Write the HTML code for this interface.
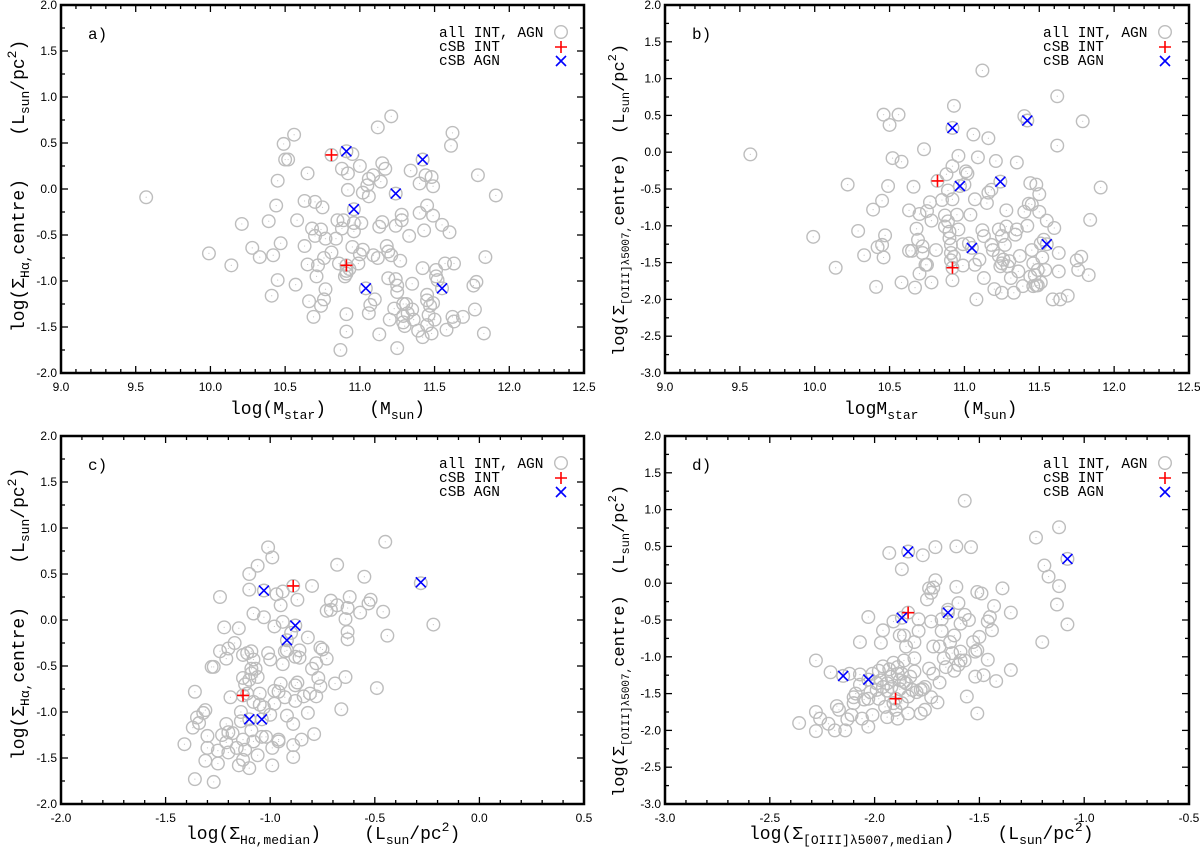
<!DOCTYPE html>
<html><head><meta charset="utf-8"><style>
html,body{margin:0;padding:0;background:#fff;}
svg{display:block;}
.tl{font-family:"Liberation Sans",sans-serif;font-size:12px;fill:#000;}
.mono{font-family:"Liberation Mono",monospace;fill:#000;}
.pre text{white-space:pre;}
</style></head><body>
<svg id="fig" width="1200" height="850" viewBox="0 0 1200 850" xmlns="http://www.w3.org/2000/svg"></svg>
<script>
const aAll = [[9.57,-0.09],[9.99,-0.70],[10.14,-0.83],[10.21,-0.38],[10.28,-0.64],[10.33,-0.74],[10.39,-0.35],[10.41,-1.16],[10.42,-0.72],[10.44,-0.18],[10.45,0.09],[10.45,-0.99],[10.47,-0.59],[10.49,0.49],[10.50,0.32],[10.52,0.32],[10.56,0.59],[10.57,-1.04],[10.58,-0.34],[10.63,-0.13],[10.63,-0.62],[10.65,0.17],[10.65,-0.82],[10.66,-1.22],[10.68,-0.43],[10.69,-1.39],[10.70,-0.51],[10.70,-0.14],[10.71,-0.95],[10.72,-0.83],[10.74,-0.44],[10.74,-1.27],[10.75,-0.20],[10.76,-1.20],[10.76,-0.75],[10.77,-0.54],[10.77,-1.09],[10.81,-0.69],[10.84,-0.54],[10.85,-0.34],[10.86,-0.81],[10.87,-1.75],[10.88,0.22],[10.88,-0.43],[10.89,-0.34],[10.90,-0.95],[10.91,-0.89],[10.91,-1.36],[10.91,-1.55],[10.91,-0.92],[10.92,-0.01],[10.92,0.17],[10.93,-0.87],[10.95,0.38],[10.95,-0.63],[10.96,-0.46],[10.96,-0.37],[10.99,-0.81],[11.00,-0.71],[11.00,0.25],[11.01,-0.37],[11.02,-0.04],[11.02,-0.66],[11.05,0.04],[11.06,0.11],[11.06,-0.08],[11.06,-1.35],[11.07,-1.26],[11.09,0.15],[11.09,-0.72],[11.10,-1.20],[11.12,-0.75],[11.12,0.67],[11.13,-1.58],[11.13,-0.41],[11.14,0.08],[11.15,-0.36],[11.15,0.28],[11.17,0.22],[11.18,-0.62],[11.19,-0.68],[11.19,-0.97],[11.20,-1.42],[11.21,0.79],[11.21,-0.72],[11.23,-1.30],[11.24,-0.40],[11.24,-0.98],[11.25,-1.73],[11.25,-1.12],[11.25,-1.05],[11.27,-0.78],[11.28,-0.28],[11.28,-0.34],[11.29,-1.45],[11.29,-1.25],[11.29,-1.38],[11.30,-1.49],[11.31,-1.25],[11.32,-1.35],[11.33,-0.51],[11.34,0.20],[11.35,-1.03],[11.35,-1.31],[11.36,-1.42],[11.39,-1.54],[11.40,0.06],[11.40,-0.26],[11.42,-0.86],[11.42,-1.61],[11.43,-0.45],[11.44,0.15],[11.45,-1.48],[11.45,-1.15],[11.45,-0.18],[11.45,-1.21],[11.46,-1.37],[11.47,-1.27],[11.48,-1.57],[11.48,0.13],[11.49,0.03],[11.49,-0.29],[11.49,-1.24],[11.50,-1.42],[11.51,-0.88],[11.51,-0.95],[11.52,-0.99],[11.55,-0.39],[11.57,-0.81],[11.58,-1.53],[11.60,-0.47],[11.61,0.47],[11.62,0.61],[11.63,-0.81],[11.63,-1.44],[11.62,-1.39],[11.69,-1.39],[11.76,-1.05],[11.77,-1.31],[11.78,-1.01],[11.79,0.15],[11.83,-1.57],[11.84,-0.74],[11.91,-0.07],[10.81,0.37],[10.91,-0.83],[10.91,0.41],[11.42,0.32],[11.24,-0.05],[10.96,-0.22],[11.04,-1.08],[11.55,-1.08]];
const aInt = [[10.81,0.37],[10.91,-0.83]];
const aAgn = [[10.91,0.41],[11.42,0.32],[11.24,-0.05],[10.96,-0.22],[11.04,-1.08],[11.55,-1.08]];

const bAll = [[9.57,-0.03],[9.99,-1.15],[10.14,-1.57],[10.22,-0.44],[10.29,-1.07],[10.33,-1.40],[10.39,-0.78],[10.41,-1.83],[10.42,-1.29],[10.45,-0.66],[10.45,-1.26],[10.46,0.51],[10.46,-1.43],[10.47,-1.13],[10.49,-0.46],[10.50,0.37],[10.52,-0.08],[10.56,0.51],[10.58,-0.13],[10.58,-1.77],[10.63,-0.79],[10.63,-1.34],[10.65,-1.34],[10.66,-0.47],[10.67,-1.84],[10.68,-1.04],[10.69,-1.19],[10.70,-1.65],[10.70,-0.84],[10.72,-1.37],[10.72,-1.28],[10.73,0.04],[10.74,-1.53],[10.75,-0.80],[10.75,-1.53],[10.77,-0.68],[10.78,-0.93],[10.78,-1.77],[10.81,-1.33],[10.85,-0.65],[10.87,-0.86],[10.87,-1.01],[10.88,-0.30],[10.89,-0.94],[10.89,-0.52],[10.90,-1.17],[10.90,-1.08],[10.91,-1.26],[10.91,-1.47],[10.91,-1.37],[10.92,-0.64],[10.92,-1.74],[10.92,-0.19],[10.93,-1.42],[10.93,0.63],[10.95,-0.85],[10.96,-0.05],[10.96,-1.05],[10.99,-1.25],[10.99,-1.54],[11.00,-0.44],[11.01,-0.26],[11.02,-0.29],[11.03,-1.24],[11.04,-0.85],[11.06,0.24],[11.07,-0.64],[11.07,-1.53],[11.08,-2.00],[11.09,-0.07],[11.10,-1.46],[11.12,-1.06],[11.12,1.11],[11.13,-1.71],[11.13,-1.14],[11.15,-0.69],[11.16,0.19],[11.16,-0.55],[11.18,-0.51],[11.18,-1.26],[11.19,-1.33],[11.20,-1.86],[11.21,-0.12],[11.23,-1.05],[11.23,-1.41],[11.24,-1.55],[11.25,-1.14],[11.25,-1.91],[11.25,-1.51],[11.26,-1.46],[11.27,-1.26],[11.28,-0.79],[11.28,-1.01],[11.29,-1.55],[11.30,-1.48],[11.31,-1.71],[11.33,-1.91],[11.34,-1.12],[11.35,-0.14],[11.35,-1.05],[11.36,-1.62],[11.37,-1.41],[11.39,-1.82],[11.40,0.49],[11.40,-0.81],[11.42,-1.00],[11.43,-0.70],[11.44,-0.42],[11.44,-1.69],[11.45,-0.71],[11.45,-1.33],[11.46,-1.82],[11.46,-1.51],[11.47,-1.67],[11.48,-1.81],[11.48,-0.44],[11.49,-1.60],[11.49,-1.81],[11.50,-0.57],[11.50,-0.81],[11.51,-1.77],[11.51,-1.24],[11.52,-1.43],[11.53,-1.19],[11.54,-1.60],[11.55,-0.93],[11.59,-2.00],[11.60,-1.03],[11.62,0.76],[11.62,0.09],[11.63,-1.37],[11.63,-1.62],[11.64,-2.00],[11.69,-1.95],[11.75,-1.47],[11.76,-1.60],[11.78,-1.42],[11.79,0.42],[11.83,-1.67],[11.84,-0.92],[11.91,-0.48],[10.82,-0.39],[10.92,-1.57],[10.92,0.33],[11.42,0.43],[10.97,-0.46],[11.24,-0.40],[11.05,-1.30],[11.55,-1.25]];
const bInt = [[10.82,-0.39],[10.92,-1.57]];
const bAgn = [[10.92,0.33],[11.42,0.43],[10.97,-0.46],[11.24,-0.40],[11.05,-1.30],[11.55,-1.25]];

const cAll = [[-1.41,-1.35],[-1.36,-1.73],[-1.36,-0.78],[-1.37,-1.17],[-1.35,-1.06],[-1.34,-1.12],[-1.31,-0.98],[-1.32,-1.01],[-1.31,-1.53],[-1.30,-1.39],[-1.30,-1.26],[-1.28,-0.51],[-1.27,-0.51],[-1.27,-1.76],[-1.25,-1.42],[-1.25,-1.56],[-1.24,0.25],[-1.24,-0.34],[-1.23,-1.25],[-1.22,-0.08],[-1.21,-1.33],[-1.21,-0.42],[-1.21,-1.13],[-1.20,-0.31],[-1.20,-1.44],[-1.20,-1.22],[-1.19,-0.84],[-1.18,-1.23],[-1.17,-0.25],[-1.16,-1.39],[-1.15,-1.58],[-1.15,-0.09],[-1.14,-1.00],[-1.14,-1.10],[-1.13,-1.30],[-1.13,-0.38],[-1.13,-0.63],[-1.13,-1.52],[-1.12,-0.70],[-1.12,-1.41],[-1.11,-0.36],[-1.11,-0.80],[-1.10,0.33],[-1.10,-0.65],[-1.10,0.50],[-1.10,-1.61],[-1.09,-0.34],[-1.09,-1.20],[-1.09,-0.58],[-1.09,-0.53],[-1.08,0.07],[-1.08,-0.43],[-1.08,-0.89],[-1.08,-1.32],[-1.07,-0.53],[-1.06,-0.62],[-1.06,0.59],[-1.06,-1.47],[-1.05,-0.92],[-1.05,-0.80],[-1.04,-1.27],[-1.03,0.03],[-1.03,-0.95],[-1.02,-1.27],[-1.01,0.79],[-1.01,-0.36],[-1.00,-0.43],[-1.00,-1.03],[-0.99,-1.39],[-0.99,-1.58],[-0.99,0.68],[-0.98,-0.77],[-0.98,-0.07],[-0.98,-0.91],[-0.97,0.28],[-0.96,-1.30],[-0.96,-0.78],[-0.96,-1.32],[-0.95,-0.69],[-0.95,0.16],[-0.94,0.31],[-0.94,-0.48],[-0.94,-0.02],[-0.93,-0.34],[-0.93,-0.84],[-0.92,-1.04],[-0.92,-0.33],[-0.90,-0.14],[-0.89,-1.13],[-0.89,-1.36],[-0.89,-1.49],[-0.88,-0.88],[-0.88,-0.71],[-0.88,-0.40],[-0.87,-0.68],[-0.87,0.22],[-0.86,-0.41],[-0.86,-0.33],[-0.85,-1.30],[-0.84,-0.83],[-0.82,-1.01],[-0.82,-0.19],[-0.81,-0.80],[-0.80,0.37],[-0.80,-0.53],[-0.79,-1.24],[-0.78,-0.47],[-0.78,-0.83],[-0.77,-0.63],[-0.76,-0.30],[-0.76,-0.72],[-0.75,-0.32],[-0.73,-0.42],[-0.73,0.10],[-0.71,0.21],[-0.71,0.11],[-0.69,-0.69],[-0.68,0.16],[-0.68,0.60],[-0.66,-0.97],[-0.64,-0.62],[-0.64,0.01],[-0.63,0.13],[-0.63,-0.13],[-0.63,-0.21],[-0.62,0.25],[-0.57,0.08],[-0.55,0.47],[-0.53,0.18],[-0.52,0.22],[-0.49,-0.74],[-0.46,0.09],[-0.45,0.85],[-0.44,-0.17],[-0.22,-0.05],[-0.28,0.40],[-0.89,0.37],[-1.13,-0.82],[-1.03,0.32],[-0.88,-0.06],[-0.92,-0.22],[-1.10,-1.08],[-1.04,-1.08]];
const cInt = [[-0.89,0.37],[-1.13,-0.82]];
const cAgn = [[-1.03,0.32],[-0.88,-0.06],[-0.92,-0.22],[-1.10,-1.08],[-1.04,-1.08],[-0.28,0.41]];

const dAll = [[-2.36,-1.90],[-2.28,-1.05],[-2.28,-1.75],[-2.28,-2.01],[-2.26,-1.84],[-2.22,-1.91],[-2.21,-1.21],[-2.19,-2.00],[-2.18,-1.67],[-2.17,-1.72],[-2.14,-2.00],[-2.13,-1.85],[-2.12,-1.23],[-2.11,-1.79],[-2.10,-1.55],[-2.10,-1.63],[-2.09,-1.50],[-2.07,-1.38],[-2.07,-0.80],[-2.07,-1.24],[-2.06,-1.84],[-2.05,-1.58],[-2.03,-1.57],[-2.03,-0.46],[-2.03,-1.95],[-2.02,-1.48],[-2.01,-1.23],[-2.01,-1.79],[-1.99,-1.36],[-1.99,-1.45],[-1.98,-1.19],[-1.98,-1.57],[-1.97,-1.32],[-1.97,-0.81],[-1.96,-1.13],[-1.96,-0.64],[-1.96,-1.41],[-1.95,-1.68],[-1.94,-1.36],[-1.94,-1.82],[-1.94,-1.46],[-1.93,-1.17],[-1.93,0.41],[-1.92,-1.41],[-1.92,-1.27],[-1.91,-0.52],[-1.91,-1.63],[-1.91,-1.08],[-1.90,-1.72],[-1.89,-1.23],[-1.89,-1.14],[-1.89,-1.84],[-1.88,-1.44],[-1.88,-1.32],[-1.88,-0.71],[-1.87,0.19],[-1.87,-1.63],[-1.87,-1.23],[-1.86,-1.05],[-1.86,-0.71],[-1.86,-1.34],[-1.85,-0.86],[-1.85,-1.36],[-1.84,-1.54],[-1.84,-1.77],[-1.84,0.43],[-1.83,-1.27],[-1.82,-1.45],[-1.81,-1.02],[-1.81,-0.80],[-1.81,-1.20],[-1.80,-1.48],[-1.79,-0.65],[-1.79,-0.49],[-1.78,-1.77],[-1.78,-1.45],[-1.77,-1.44],[-1.77,0.38],[-1.76,-1.72],[-1.76,-1.41],[-1.75,-0.22],[-1.74,-0.07],[-1.74,-1.16],[-1.73,-0.52],[-1.73,-0.13],[-1.73,-1.55],[-1.72,-0.06],[-1.72,-0.86],[-1.72,-1.23],[-1.71,0.04],[-1.71,0.49],[-1.70,-1.62],[-1.69,-1.35],[-1.69,-0.86],[-1.68,-0.49],[-1.68,-0.65],[-1.67,-1.02],[-1.66,-1.14],[-1.65,-0.36],[-1.64,-0.80],[-1.63,-0.95],[-1.62,-1.19],[-1.62,-0.71],[-1.61,0.50],[-1.61,-0.05],[-1.60,-1.11],[-1.60,-0.27],[-1.59,-0.55],[-1.59,-1.05],[-1.59,-0.93],[-1.57,-0.43],[-1.57,-1.05],[-1.57,1.12],[-1.56,-1.54],[-1.55,-0.50],[-1.54,0.49],[-1.53,-0.80],[-1.52,-1.27],[-1.52,-0.93],[-1.51,-0.12],[-1.51,-1.77],[-1.51,-0.91],[-1.50,-0.73],[-1.49,-0.14],[-1.48,-1.25],[-1.46,-1.04],[-1.46,-0.52],[-1.45,-0.46],[-1.44,-0.64],[-1.43,-0.31],[-1.42,-1.33],[-1.39,-0.07],[-1.35,-0.40],[-1.35,-1.18],[-1.23,0.62],[-1.20,-0.80],[-1.19,0.24],[-1.17,0.09],[-1.13,-0.29],[-1.12,-0.04],[-1.12,0.76],[-1.08,-0.56],[-1.08,0.33],[-1.84,-0.40],[-1.90,-1.57],[-1.87,-0.47],[-1.65,-0.40],[-2.15,-1.26],[-2.03,-1.31]];
const dInt = [[-1.84,-0.40],[-1.90,-1.57]];
const dAgn = [[-1.84,0.43],[-1.08,0.33],[-1.87,-0.47],[-1.65,-0.40],[-2.15,-1.26],[-2.03,-1.31]];

const aXTicks = ["9.0","9.5","10.0","10.5","11.0","11.5","12.0","12.5"];
const aYTicks = ["-2.0","-1.5","-1.0","-0.5","0.0","0.5","1.0","1.5","2.0"];
const bYTicks = ["-3.0","-2.5","-2.0","-1.5","-1.0","-0.5","0.0","0.5","1.0","1.5","2.0"];
const cXTicks = ["-2.0","-1.5","-1.0","-0.5","0.0","0.5"];
const dXTicks = ["-3.0","-2.5","-2.0","-1.5","-1.0","-0.5"];

const NS = "http://www.w3.org/2000/svg";
const svg = document.getElementById('fig');
function mk(tag, attrs, parent) {
  const e = document.createElementNS(NS, tag);
  for (const k in attrs) e.setAttribute(k, attrs[k]);
  (parent || svg).appendChild(e);
  return e;
}

function drawPanel(p) {
  const g = mk('g', {});
  
  
  const xs = v => p.L + (v - p.x0) / (p.x1 - p.x0) * (p.R - p.L);
  const ys = v => p.B - (v - p.y0) / (p.y1 - p.y0) * (p.B - p.T);
  const tg = mk('g', {stroke: '#000', 'stroke-width': 1.3}, g);
  
  
  const nxm = Math.round((p.x1 - p.x0) / 0.1);
  for (let i = 0; i <= nxm; i++) {
    const v = p.x0 + i * 0.1, X = xs(v), len = (i % 5 === 0) ? 7 : 4;
    mk('line', {x1: X, y1: p.B, x2: X, y2: p.B - len}, tg);
    mk('line', {x1: X, y1: p.T, x2: X, y2: p.T + len}, tg);
  }
  const nym = Math.round((p.y1 - p.y0) / 0.25);
  for (let i = 0; i <= nym; i++) {
    const v = p.y0 + i * 0.25, Y = ys(v), len = (i % 2 === 0) ? 7 : 4;
    mk('line', {x1: p.L, y1: Y, x2: p.L + len, y2: Y}, tg);
    mk('line', {x1: p.R, y1: Y, x2: p.R - len, y2: Y}, tg);
  }
  const fr = mk('rect', {x: p.L, y: p.T, width: p.R - p.L, height: p.B - p.T, fill: 'none', stroke: '#000', 'stroke-width': 2.5}, g);
  
  
  p.xt.forEach(t => {
    const e = mk('text', {x: xs(parseFloat(t)), y: p.B + 18, 'text-anchor': 'middle', class: 'tl'}, g);
    e.textContent = t;
    
    
  });
  p.yt.forEach(t => {
    const e = mk('text', {x: p.L - 4, y: ys(parseFloat(t)) + 4, 'text-anchor': 'end', class: 'tl'}, g);
    e.textContent = t;
    
    
  });
  const pg = mk('g', {}, g);
  
  
  p.all.forEach(d => {
    const c = mk('circle', {cx: xs(d[0]), cy: ys(d[1]), r: 6.3, fill: 'none', stroke: '#bdbdbd', 'stroke-width': 1.4}, pg);
    
    
    mk('circle', {cx: xs(d[0]), cy: ys(d[1]), r: 0.6, fill: '#c8c8c8'}, pg);
  });
  const ig = mk('g', {stroke: '#ff0000', 'stroke-width': 1.6}, g);
  
  
  p.int.forEach(d => {
    const X = xs(d[0]), Y = ys(d[1]);
    const l = mk('path', {d: `M${X-6},${Y}H${X+6}M${X},${Y-6}V${Y+6}`}, ig);
    
    
  });
  const ag = mk('g', {stroke: '#0000ff', 'stroke-width': 1.6}, g);
  
  
  p.agn.forEach(d => {
    const X = xs(d[0]), Y = ys(d[1]);
    const l = mk('path', {d: `M${X-5},${Y-5}L${X+5},${Y+5}M${X-5},${Y+5}L${X+5},${Y-5}`}, ag);
    
    
  });
  const pl = mk('text', {x: p.L + 27, y: p.T + 34, class: 'mono', 'font-size': 16}, g);
  pl.textContent = p.id + ')';
  
  
  const lg = mk('g', {}, g);
  
  
  const names = ['all INT, AGN', 'cSB INT', 'cSB AGN'];
  names.forEach((n, i) => {
    const y = p.T + 28 + i * 14;
    const t = mk('text', {x: p.L + 378, y: y + 4, class: 'mono', 'font-size': 14.5}, lg);
    t.textContent = n;
    
    
    const sx = p.L + 500;
    if (i === 0) mk('circle', {cx: sx, cy: y - 1, r: 6.3, fill: 'none', stroke: '#bdbdbd', 'stroke-width': 1.4}, lg);
    if (i === 1) mk('path', {d: `M${sx-6},${y}H${sx+6}M${sx},${y-6}V${y+6}`, stroke: '#f00', 'stroke-width': 1.6}, lg);
    if (i === 2) mk('path', {d: `M${sx-5},${y-5}L${sx+5},${y+5}M${sx-5},${y+5}L${sx+5},${y-5}`, stroke: '#00f', 'stroke-width': 1.6}, lg);
  });
}

drawPanel({id:'a', L:61, R:584, T:5, B:373, x0:9, x1:12.5, y0:-2, y1:2, xt:aXTicks, yt:aYTicks, all:aAll, int:aInt, agn:aAgn});
drawPanel({id:'b', L:665, R:1189, T:5, B:373, x0:9, x1:12.5, y0:-3, y1:2, xt:aXTicks, yt:bYTicks, all:bAll, int:bInt, agn:bAgn});
drawPanel({id:'c', L:61, R:584, T:436, B:804, x0:-2, x1:0.5, y0:-2, y1:2, xt:cXTicks, yt:aYTicks, all:cAll, int:cInt, agn:cAgn});
drawPanel({id:'d', L:665, R:1189, T:436, B:804, x0:-3, x1:-0.5, y0:-3, y1:2, xt:dXTicks, yt:bYTicks, all:dAll, int:dInt, agn:dAgn});
</script>
<svg class="pre" style="position:absolute;left:0;top:0" width="1200" height="850">
<g class="mono" font-family="Liberation Mono, monospace" font-size="18">
<text x="230" y="414">log(M<tspan font-size="13" dy="5">star</tspan><tspan dy="-5">)    (M</tspan><tspan font-size="13" dy="5">sun</tspan><tspan dy="-5">)</tspan></text>
<text x="844" y="414">logM<tspan font-size="13" dy="5">star</tspan><tspan dy="-5">    (M</tspan><tspan font-size="13" dy="5">sun</tspan><tspan dy="-5">)</tspan></text>
<text x="186" y="839">log(Σ<tspan font-size="13" dy="5">Hα,median</tspan><tspan dy="-5">)    (L</tspan><tspan font-size="13" dy="5">sun</tspan><tspan dy="-5">/pc</tspan><tspan font-size="13" dy="-8">2</tspan><tspan dy="8">)</tspan></text>
<text x="749" y="839">log(Σ<tspan font-size="13" dy="5">[OIII]λ5007,median</tspan><tspan dy="-5">)    (L</tspan><tspan font-size="13" dy="5">sun</tspan><tspan dy="-5">/pc</tspan><tspan font-size="13" dy="-8">2</tspan><tspan dy="8">)</tspan></text>
<text transform="translate(24,332) rotate(-90)" x="0" y="0">log(Σ<tspan font-size="13" dy="5">Hα,</tspan><tspan dy="-5">centre)    (L</tspan><tspan font-size="13" dy="5">sun</tspan><tspan dy="-5">/pc</tspan><tspan font-size="13" dy="-8">2</tspan><tspan dy="8">)</tspan></text>
<text font-size="17" transform="translate(624,356) rotate(-90)" x="0" y="0">log(Σ<tspan font-size="11" dy="5">[OIII]λ5007,</tspan><tspan dy="-5">centre)  (L</tspan><tspan font-size="12" dy="5">sun</tspan><tspan dy="-5">/pc</tspan><tspan font-size="12" dy="-8">2</tspan><tspan dy="8">)</tspan></text>
<text transform="translate(24,760) rotate(-90)" x="0" y="0">log(Σ<tspan font-size="13" dy="5">Hα,</tspan><tspan dy="-5">centre)    (L</tspan><tspan font-size="13" dy="5">sun</tspan><tspan dy="-5">/pc</tspan><tspan font-size="13" dy="-8">2</tspan><tspan dy="8">)</tspan></text>
<text font-size="17" transform="translate(624,797) rotate(-90)" x="0" y="0">log(Σ<tspan font-size="11" dy="5">[OIII]λ5007,</tspan><tspan dy="-5">centre)  (L</tspan><tspan font-size="12" dy="5">sun</tspan><tspan dy="-5">/pc</tspan><tspan font-size="12" dy="-8">2</tspan><tspan dy="8">)</tspan></text>
</g>
</svg>
</body></html>
